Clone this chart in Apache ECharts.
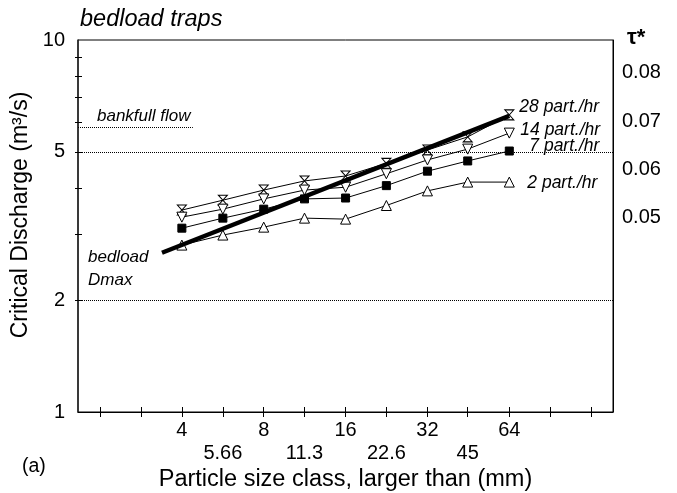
<!DOCTYPE html>
<html><head><meta charset="utf-8">
<script src="https://cdn.jsdelivr.net/npm/echarts@6/dist/echarts.min.js"></script>
<style>html,body{margin:0;padding:0;background:#fff}#c{width:677px;height:493px}</style>
</head><body><div id="c"></div>
<script>
const sizes = [4, 5.66, 8, 11.3, 16, 22.6, 32, 45, 64];
const q28 = [3.49, 3.71, 3.95, 4.18, 4.31, 4.66, 5.06, 5.49, 6.29];
const q14 = [3.34, 3.51, 3.74, 3.95, 4.02, 4.37, 4.76, 5.09, 5.62];
const q7  = [3.12, 3.32, 3.51, 3.74, 3.76, 4.06, 4.44, 4.73, 5.03];
const q2  = [2.81, 2.99, 3.14, 3.32, 3.30, 3.59, 3.93, 4.15, 4.15];
const dmaxSize = [3.38, 64];
const dmaxQ = [2.68, 6.25];
const xTickValues = [2, 2.83, 4, 5.66, 8, 11.3, 16, 22.6, 32, 45, 64, 90.5, 128];
const xLabelsRow1 = [4, 8, 16, 32, 64];
const xLabelsRow2 = [5.66, 11.3, 22.6, 45];
const yLabels = [1, 2, 5, 10];
const yMinorTicks = [2, 3, 4, 5, 6, 7, 8, 9];
const tauLabels = [0.05, 0.06, 0.07, 0.08];
const refLines = [5, 2];
const bankfull = 5.84;
const bankfullEnd = 4.39;
const seriesNames = ['28 part./hr', '14 part./hr', '7 part./hr', '2 part./hr'];

const FONT = 'Liberation Sans, Arial, sans-serif';
const xMin = 1.66, xMax = 154;
const pair = (xs, ys) => xs.map((x, i) => [x, ys[i]]);
const hourglass = 'path://M0,0 L10,0 L0,10 L10,10 Z';
const endLab = (name, offset) => ({ show: true, formatter: name, offset: offset, fontStyle: 'italic', fontSize: 17.5, fontFamily: FONT, color: '#000' });

function ptSeries(name, ys, symbol, opts) {
  return Object.assign({
    type: 'line', name: name, data: pair(sizes, ys),
    symbol: symbol, symbolSize: 10,
    lineStyle: { color: '#000', width: 1 },
    itemStyle: { color: '#fff', borderColor: '#000', borderWidth: 1 },
    z: 3
  }, opts);
}

const chart = echarts.init(document.getElementById('c'), null, { renderer: 'canvas' });
chart.setOption({
  animation: false,
  backgroundColor: '#fff',
  textStyle: { fontFamily: FONT, color: '#000' },
  title: { text: 'bedload traps', left: 75, top: 3,
    textStyle: { fontStyle: 'italic', fontWeight: 'normal', fontSize: 23.5, fontFamily: FONT, color: '#000' } },
  grid: { left: 78, right: 64, top: 40, bottom: 81, outerBoundsMode: 'none', containLabel: false,
    show: true, borderColor: '#000', borderWidth: 1, backgroundColor: 'transparent' },
  xAxis: [
    { type: 'log', logBase: 2, min: xMin, max: xMax, position: 'bottom',
      axisLine: { lineStyle: { color: '#000', width: 1 } },
      axisTick: { customValues: xTickValues, inside: true, length: 5, lineStyle: { color: '#000' } },
      axisLabel: { customValues: xLabelsRow1, margin: 8, fontSize: 20, color: '#000', fontFamily: FONT },
      splitLine: { show: false }, minorTick: { show: false } },
    { type: 'log', logBase: 2, min: xMin, max: xMax, position: 'bottom',
      axisLine: { show: false },
      axisTick: { customValues: xTickValues, inside: false, length: 5, lineStyle: { color: '#000' } },
      axisLabel: { customValues: xLabelsRow2, margin: 31, fontSize: 20, color: '#000', fontFamily: FONT },
      splitLine: { show: false },
      name: 'Particle size class, larger than (mm)', nameLocation: 'middle', nameGap: 53,
      nameTextStyle: { fontSize: 23.5, color: '#000', fontFamily: FONT } }
  ],
  yAxis: [
    { type: 'log', logBase: 10, min: 1, max: 10, position: 'left',
      axisLine: { show: true, lineStyle: { color: '#222', width: 1.5 } },
      axisTick: { show: true, customValues: yMinorTicks, inside: true, length: 4, lineStyle: { color: '#000' } },
      axisLabel: { customValues: yLabels, fontSize: 20, margin: 13, color: '#000', fontFamily: FONT },
      splitLine: { show: false },
      name: 'Critical Discharge (m³/s)', nameLocation: 'middle', nameGap: 41,
      nameTextStyle: { fontSize: 23, color: '#000', fontFamily: FONT, padding: [0, 0, 0, 22] } },
    { type: 'value', min: 0.0098, max: 0.0868, position: 'right',
      axisLine: { show: true, lineStyle: { color: '#000', width: 1 } },
      axisTick: { show: false },
      axisLabel: { customValues: tauLabels, formatter: v => v.toFixed(2), fontSize: 20, margin: 9, color: '#000', fontFamily: FONT },
      splitLine: { show: false },
      name: 'τ*', nameLocation: 'end', nameGap: 2,
      nameTextStyle: { fontSize: 22, fontWeight: 'bold', align: 'left', verticalAlign: 'middle', padding: [0, 0, 0, 14], color: '#000', fontFamily: FONT } },
    { type: 'log', logBase: 10, min: 1, max: 10, position: 'left',
      axisLine: { show: false },
      axisTick: { show: true, customValues: yMinorTicks, inside: false, length: 3, lineStyle: { color: '#000' } },
      axisLabel: { show: false }, splitLine: { show: false } }
  ],
  series: [
    ptSeries(seriesNames[0], q28, hourglass, { symbolSize: [9, 10], endLabel: endLab(seriesNames[0], [2, -8]),
      markLine: { silent: true, symbol: 'none', lineStyle: { type: 'dotted', color: '#000', width: 1 }, label: { show: false },
        data: refLines.map(v => ({ yAxis: v })).concat([[
          { coord: [xMin, bankfull], label: { show: true, formatter: 'bankfull flow', position: 'insideStartTop', distance: [19, 2], fontStyle: 'italic', fontSize: 17, fontFamily: FONT, color: '#000' } },
          { coord: [bankfullEnd, bankfull] }
        ]]) } }),
    ptSeries(seriesNames[1], q14, 'triangle', { symbolRotate: 180, endLabel: endLab(seriesNames[1], [3, -3]) }),
    ptSeries(seriesNames[2], q7, 'rect', { symbolSize: 8, itemStyle: { color: '#000', borderColor: '#000' }, endLabel: endLab(seriesNames[2], [12, -5]) }),
    ptSeries(seriesNames[3], q2, 'triangle', { endLabel: endLab(seriesNames[3], [10, 1]) }),
    { type: 'line', name: 'bedload Dmax', data: pair(dmaxSize, dmaxQ), symbol: 'none', z: 5,
      lineStyle: { color: '#000', width: 4.5 } }
  ],
  graphic: [
    { type: 'text', left: 88, top: 246, style: { text: 'bedload\nDmax', fontStyle: 'italic', fontSize: 17, lineHeight: 23, fontFamily: FONT, fill: '#000' } },
    { type: 'text', left: 22, top: 457, style: { text: '(a)', fontSize: 19.5, fontFamily: FONT, fill: '#000' } }
  ]
});
</script></body></html>
